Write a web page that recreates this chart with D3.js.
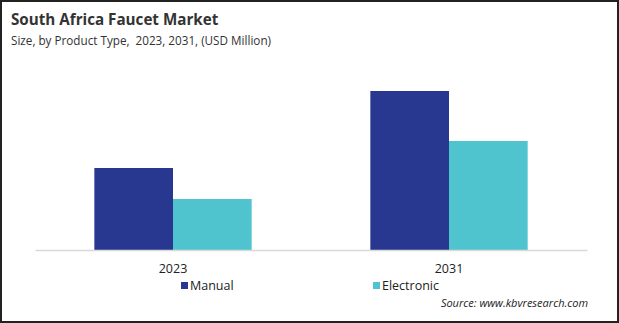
<!DOCTYPE html>
<html>
<head>
<meta charset="utf-8">
<script src="https://cdn.jsdelivr.net/npm/d3@7"></script>
<style>
  body { margin: 0; background: #fff; }
  svg { display: block; font-family: "Open Sans", "Noto Sans", sans-serif; }
</style>
</head>
<body>
<svg id="chart" width="619" height="323"></svg>
<script>
// Market size by product type (USD Million)
const years = ["2023", "2031"];
const series = ["Manual", "Electronic"];
const manualValues = [41, 79.5];
const electronicValues = [25.5, 54.5];
const colors = ["#283891", "#4fc4cf"];

const svg = d3.select("#chart");
const W = 619, H = 323;

// Frame
svg.append("rect")
  .attr("x", 1).attr("y", 1)
  .attr("width", W - 2).attr("height", H - 2)
  .attr("fill", "#fff")
  .attr("stroke", "#222").attr("stroke-width", 2);

// Titles
svg.append("text")
  .attr("x", 11).attr("y", 25)
  .attr("font-size", 15.2).attr("font-weight", "bold").attr("fill", "#333")
  .text("South Africa Faucet Market");
svg.append("text")
  .attr("x", 11).attr("y", 45)
  .attr("font-size", 11.7).attr("fill", "#333")
  .style("white-space", "pre")
  .text("Size, by Product Type,  2023, 2031, (USD Million)");

// Scales
const x0 = d3.scaleBand()
  .domain(years)
  .range([35, 587])
  .paddingInner(0.43)
  .paddingOuter(0.215);

const x1 = d3.scaleBand()
  .domain(series)
  .range([0, x0.bandwidth()]);

const y = d3.scaleLinear()
  .domain([0, 100])
  .range([250, 50]);

const rows = years.map((yr, i) => ({
  year: yr,
  values: [manualValues[i], electronicValues[i]]
}));

// Bars
const group = svg.selectAll("g.year")
  .data(rows)
  .join("g")
  .attr("class", "year")
  .attr("transform", d => `translate(${x0(d.year)},0)`);

group.selectAll("rect")
  .data(d => d.values.map((v, j) => ({ key: series[j], value: v, c: colors[j] })))
  .join("rect")
  .attr("x", d => x1(d.key))
  .attr("y", d => y(d.value))
  .attr("width", x1.bandwidth())
  .attr("height", d => y(0) - y(d.value))
  .attr("fill", d => d.c);

// Baseline axis
const xAxis = svg.append("g")
  .attr("transform", `translate(0,${y(0)})`)
  .call(d3.axisBottom(x0).tickSize(0).tickPadding(14));
xAxis.select(".domain").attr("stroke", "#d9d9d9").attr("stroke-width", 1.5);
xAxis.selectAll("text")
  .attr("font-size", 12.5)
  .attr("fill", "#222")
  .attr("font-family", "'Open Sans', 'Noto Sans', sans-serif");

// Legend
const legendX = [181, 373];
const legend = svg.selectAll("g.legend")
  .data(series)
  .join("g")
  .attr("class", "legend")
  .attr("transform", (d, i) => `translate(${legendX[i]},282)`);
legend.append("rect")
  .attr("width", 7).attr("height", 7)
  .attr("fill", (d, i) => colors[i]);
legend.append("text")
  .attr("x", 9).attr("y", 8)
  .attr("font-size", 12.5).attr("fill", "#222")
  .text(d => d);

// Source note
svg.append("text")
  .attr("x", 588).attr("y", 307)
  .attr("text-anchor", "end")
  .attr("font-size", 11).attr("font-style", "italic").attr("fill", "#222")
  .text("Source: www.kbvresearch.com");
</script>
</body>
</html>
